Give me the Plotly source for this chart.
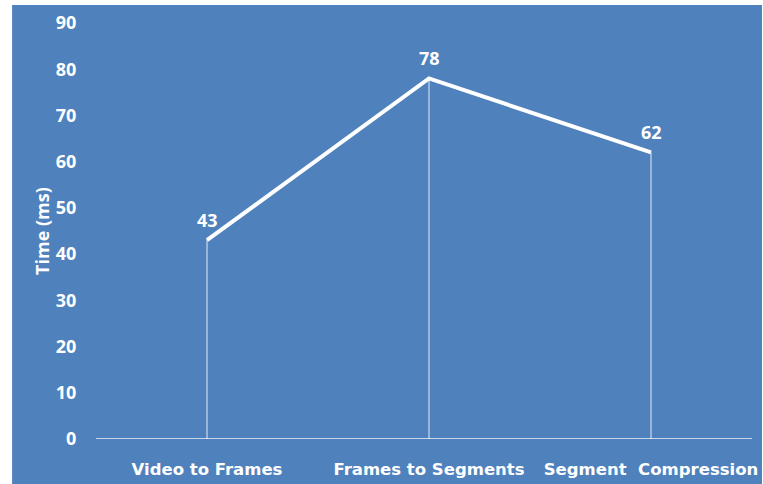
import plotly.graph_objects as go

categories = ["Video to Frames", "Frames to Segments", "Segment  Compression"]
values = [43, 78, 62]
y_ticks = [0, 10, 20, 30, 40, 50, 60, 70, 80, 90]

BLUE = "#4f81bd"
FONT = "Open Sans"

fig = go.Figure()

# drop lines
for c, v in zip(categories, values):
    fig.add_trace(go.Scatter(x=[c, c], y=[0, v], mode="lines",
                             line=dict(color="rgba(255,255,255,0.85)", width=1),
                             hoverinfo="skip", showlegend=False))

fig.add_trace(go.Scatter(x=categories, y=values, mode="lines",
                         line=dict(color="white", width=4),
                         showlegend=False))

for c, v in zip(categories, values):
    fig.add_annotation(x=c, y=v, text=f"<b>{v}</b>", showarrow=False,
                       yanchor="bottom", yshift=6,
                       font=dict(family=FONT, size=18, color="white"))

# blue background box
fig.add_shape(type="rect", xref="paper", yref="paper",
              x0=-0.126, x1=1.0, y0=-0.12, y1=1.0433,
              fillcolor=BLUE, line=dict(width=0), layer="below")

fig.update_layout(
    width=763, height=484,
    margin=dict(l=96, r=1, t=23, b=45),
    paper_bgcolor="white",
    plot_bgcolor=BLUE,
    font=dict(family=FONT, color="white"),
    xaxis=dict(
        type="category",
        range=[-0.5, 2.5],
        showgrid=False, zeroline=False,
        showline=False,
        ticks="outside", ticklen=0, tickcolor=BLUE,
        ticklabelstandoff=15,
        tickfont=dict(family="DejaVu Sans", size=16.5, color="white", weight="bold"),
    ),
    yaxis=dict(
        range=[0, 90],
        tickvals=y_ticks,
        showgrid=False, zeroline=False, showline=False,
        ticks="outside", ticklen=0, tickcolor=BLUE,
        ticklabelstandoff=15,
        tickfont=dict(family=FONT, size=18, color="white", weight="bold"),
        title=dict(text="<b>Time (ms)</b>", standoff=1,
                   font=dict(family=FONT, size=18, color="white")),
    ),
)

# x axis baseline
fig.add_shape(type="line", xref="paper", yref="y", x0=0, x1=0.985, y0=0, y1=0,
              line=dict(color="rgba(255,255,255,0.9)", width=1.5))

fig.write_html("out.html")
